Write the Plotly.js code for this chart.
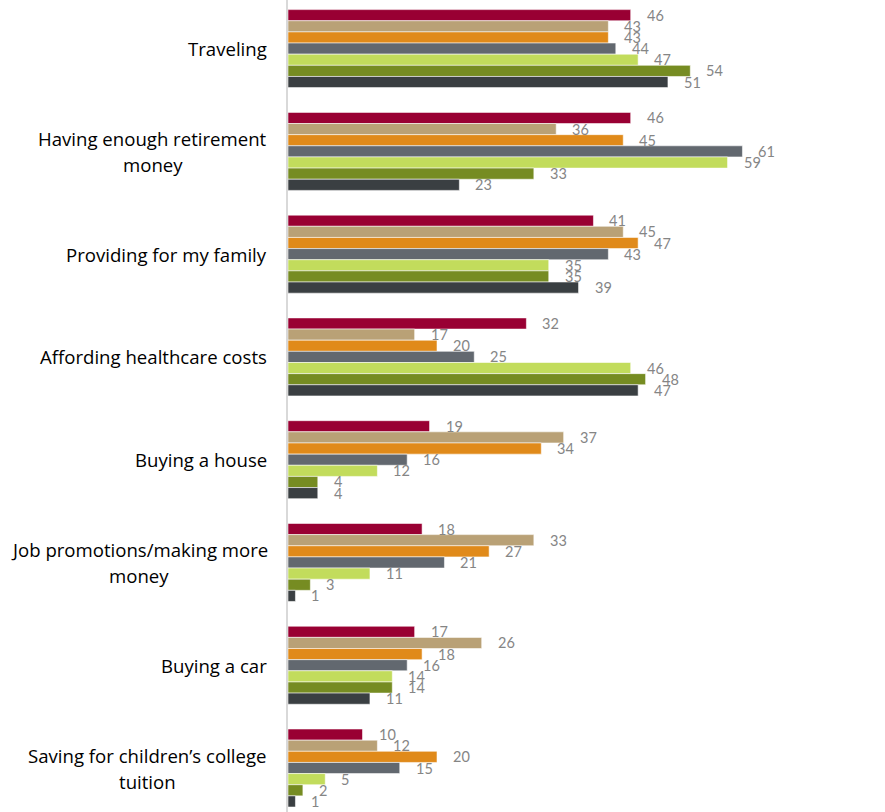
<!DOCTYPE html>
<html>
<head>
<meta charset="utf-8">
<script src="https://cdn.plot.ly/plotly-3.0.1.min.js"></script>
<style>html,body{margin:0;padding:0;background:#fff;}#chart{width:885px;height:812px;}</style>
</head>
<body>
<div id="chart"></div>
<script>
// Categories (top to bottom)
const categories = [
  "Traveling",
  "Having enough retirement<br>money",
  "Providing for my family",
  "Affording healthcare costs",
  "Buying a house",
  "Job promotions/making more<br>money",
  "Buying a car",
  "Saving for children’s college<br>tuition"
];
const catKeys = ["c0","c1","c2","c3","c4","c5","c6","c7"];

// Series values (top bar to bottom bar within each group)
const series1 = [46, 46, 41, 32, 19, 18, 17, 10];
const series2 = [43, 36, 45, 17, 37, 33, 26, 12];
const series3 = [43, 45, 47, 20, 34, 27, 18, 20];
const series4 = [44, 61, 43, 25, 16, 21, 16, 15];
const series5 = [47, 59, 35, 46, 12, 11, 14, 5];
const series6 = [54, 33, 35, 48, 4, 3, 14, 2];
const series7 = [51, 23, 39, 47, 4, 1, 11, 1];

const allSeries = [series1, series2, series3, series4, series5, series6, series7];
const colors = ["#990033", "#B9A176", "#E08A1A", "#62686F", "#C2DC5C", "#768C22", "#3A3F42"];

const bargap = 0.241;
const nS = allSeries.length;

const traces = allSeries.map((vals, i) => ({
  type: "bar",
  orientation: "h",
  x: vals,
  y: catKeys,
  marker: {color: colors[i], line: {color: "rgba(255,255,255,0.55)", width: 1}},
  hoverinfo: "x"
}));

const labelFont = {family: "'Open Sans', sans-serif", size: 18.6, color: "#000"};
const canvas = document.createElement("canvas");
const ctx = canvas.getContext("2d");
ctx.font = labelFont.size + "px 'Open Sans'";

const annotations = [];
// category labels: block right-aligned to the axis, lines centered within block
const lineGap = 26;
const rightGap = 21;
categories.forEach((c, j) => {
  const lines = c.split("<br>");
  const blockW = Math.max(...lines.map(l => ctx.measureText(l).width));
  lines.forEach((ln, k) => {
    annotations.push({
      xref: "paper", x: 0, xanchor: "center", xshift: -rightGap - blockW / 2,
      yref: "y", y: j, yanchor: "middle",
      yshift: ((lines.length - 1) / 2 - k) * lineGap,
      text: ln, showarrow: false, align: "center",
      font: labelFont
    });
  });
});
// data labels
const w = (1 - bargap) / nS;
allSeries.forEach((vals, i) => {
  vals.forEach((v, j) => {
    annotations.push({
      xref: "x", x: v, xanchor: "left", xshift: 14,
      yref: "y", y: j + (i - (nS - 1) / 2) * w, yanchor: "middle",
      text: String(v), showarrow: false,
      font: {family: "Lato, 'Open Sans', sans-serif", size: 14.5, color: "#858585"}
    });
  });
});

const layout = {
  width: 885, height: 812,
  margin: {l: 288, r: 1, t: 0, b: 0, pad: 0},
  paper_bgcolor: "#fff", plot_bgcolor: "#fff",
  barmode: "group", bargap: bargap, bargroupgap: 0,
  showlegend: false,
  xaxis: {range: [0, 80], showgrid: false, zeroline: false, showticklabels: false, ticks: "", showline: false},
  yaxis: {
    type: "category", categoryarray: catKeys, categoryorder: "array",
    range: [7.428, -0.473], showgrid: false, zeroline: false,
    showticklabels: false, ticks: "", showline: true, linecolor: "#d9d9d9", linewidth: 2
  },
  annotations: annotations
};

Plotly.newPlot("chart", traces, layout, {displayModeBar: false, staticPlot: true});
</script>
</body>
</html>
